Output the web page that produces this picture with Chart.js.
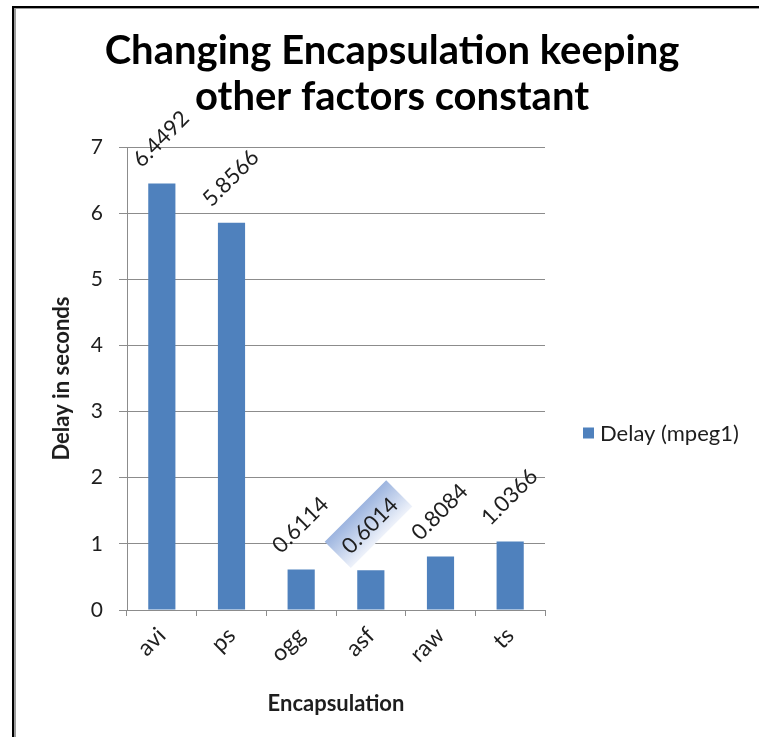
<!DOCTYPE html>
<html>
<head>
<meta charset="utf-8">
<title>Changing Encapsulation keeping other factors constant</title>
<script src="https://cdn.jsdelivr.net/npm/chart.js@4.4.0/dist/chart.umd.min.js"></script>
<style>
  html, body { margin: 0; padding: 0; background: #fff; }
  #wrap { position: relative; width: 759px; height: 737px; }
  #wrap canvas { position: absolute; left: 0; top: 0; }
  /* sheet frame: black edge with a thin grey bevel inside */
  #frame {
    position: absolute; left: 12px; top: 6px; right: 0; bottom: 0;
    border-left: 2px solid #000; border-top: 2px solid #000;
    box-shadow: inset 2px 1px 0 #9c9c9c;
    pointer-events: none;
  }
</style>
</head>
<body>
<div id="wrap">
  <canvas id="chart" width="759" height="737"></canvas>
  <div id="frame"></div>
</div>
<script>
const categories = ['avi', 'ps', 'ogg', 'asf', 'raw', 'ts'];
const delays = [6.4492, 5.8566, 0.6114, 0.6014, 0.8084, 1.0366];
const yTicks = [0, 1, 2, 3, 4, 5, 6, 7];
const seriesName = 'Delay (mpeg1)';
const selectedLabel = 'asf';   // this data label sits in a selection box

const FONT = "Lato, 'Open Sans', sans-serif";
const BAR_BLUE = '#4f81bd';
const GRID = '#8c8c8c';
const INK = '#1e1e1e';

// values written above each bar, turned 45 degrees
const valueLabels = {
  id: 'valueLabels',
  afterDatasetsDraw(chart) {
    const ctx = chart.ctx;
    const meta = chart.getDatasetMeta(0);
    ctx.save();
    ctx.font = '22px ' + FONT;
    meta.data.forEach((bar, i) => {
      const txt = String(delays[i]);
      const w = ctx.measureText(txt).width;
      ctx.save();
      ctx.translate(bar.x - 20, bar.y - 15);
      ctx.rotate(-Math.PI / 4);
      if (categories[i] === selectedLabel) {
        const g = ctx.createLinearGradient(0, -28, 0, 9);
        g.addColorStop(0, '#9cb4df');
        g.addColorStop(1, '#eef2fa');
        ctx.fillStyle = g;
        ctx.fillRect(-9, -28, w + 18, 37);
      }
      ctx.fillStyle = INK;
      ctx.textAlign = 'left';
      ctx.textBaseline = 'alphabetic';
      ctx.fillText(txt, 0, 0);
      ctx.restore();
    });
    ctx.restore();
  }
};

// single-entry legend to the right of the plot
const sideLegend = {
  id: 'sideLegend',
  afterDraw(chart) {
    const ctx = chart.ctx;
    const ds = chart.data.datasets[0];
    const area = chart.chartArea;
    const x = area.right + 38;
    const y = (area.top + area.bottom) / 2 + 55;
    ctx.save();
    ctx.fillStyle = ds.backgroundColor;
    ctx.fillRect(x, y - 6, 11, 11);
    ctx.fillStyle = INK;
    ctx.font = '22px ' + FONT;
    ctx.textBaseline = 'middle';
    ctx.fillText(ds.label, x + 17, y);
    ctx.restore();
  }
};

new Chart(document.getElementById('chart'), {
  type: 'bar',
  data: {
    labels: categories,
    datasets: [{
      label: seriesName,
      data: delays,
      backgroundColor: BAR_BLUE,
      borderWidth: 0,
      categoryPercentage: 1,
      barPercentage: 0.39
    }]
  },
  options: {
    responsive: false,
    animation: false,
    layout: { padding: { left: 25, right: 0, top: 0, bottom: 0 } },
    plugins: {
      legend: { display: false },
      tooltip: { enabled: false },
      title: {
        display: true,
        text: ['Changing Encapsulation keeping', 'other factors constant'],
        color: '#000',
        font: { family: FONT, size: 40, weight: 'bold', lineHeight: 1.15 },
        padding: { top: 28, bottom: 27 }
      }
    },
    scales: {
      x: {
        grid: { display: true, drawOnChartArea: false, drawTicks: true, tickLength: 6, color: GRID, offset: true },
        border: { display: true, color: GRID },
        ticks: {
          minRotation: 45, maxRotation: 45, padding: 6,
          color: INK, font: { family: FONT, size: 23 }
        },
        title: {
          display: true, text: 'Encapsulation', color: INK,
          font: { family: FONT, size: 22, weight: 'bold' },
          padding: { top: 4, bottom: 20 }
        },
        afterFit(s) { s.height = 127; }
      },
      y: {
        min: 0, max: 7,
        afterBuildTicks(s) { s.ticks = yTicks.map(v => ({ value: v })); },
        grid: { color: GRID, tickLength: 8 },
        border: { display: true, color: GRID },
        ticks: { padding: 16, color: INK, font: { family: FONT, size: 21 } },
        title: {
          display: true, text: 'Delay in seconds', color: INK,
          font: { family: FONT, size: 22, weight: 'bold' },
          padding: { top: 24, bottom: 4 }
        },
        afterFit(s) { s.width = 102; }
      },
      // empty axis that keeps the room on the right for the legend
      side: {
        type: 'linear', position: 'right', display: true,
        grid: { display: false }, border: { display: false },
        ticks: { display: false },
        afterFit(s) { s.width = 214; }
      }
    }
  },
  plugins: [valueLabels, sideLegend]
});
</script>
</body>
</html>
